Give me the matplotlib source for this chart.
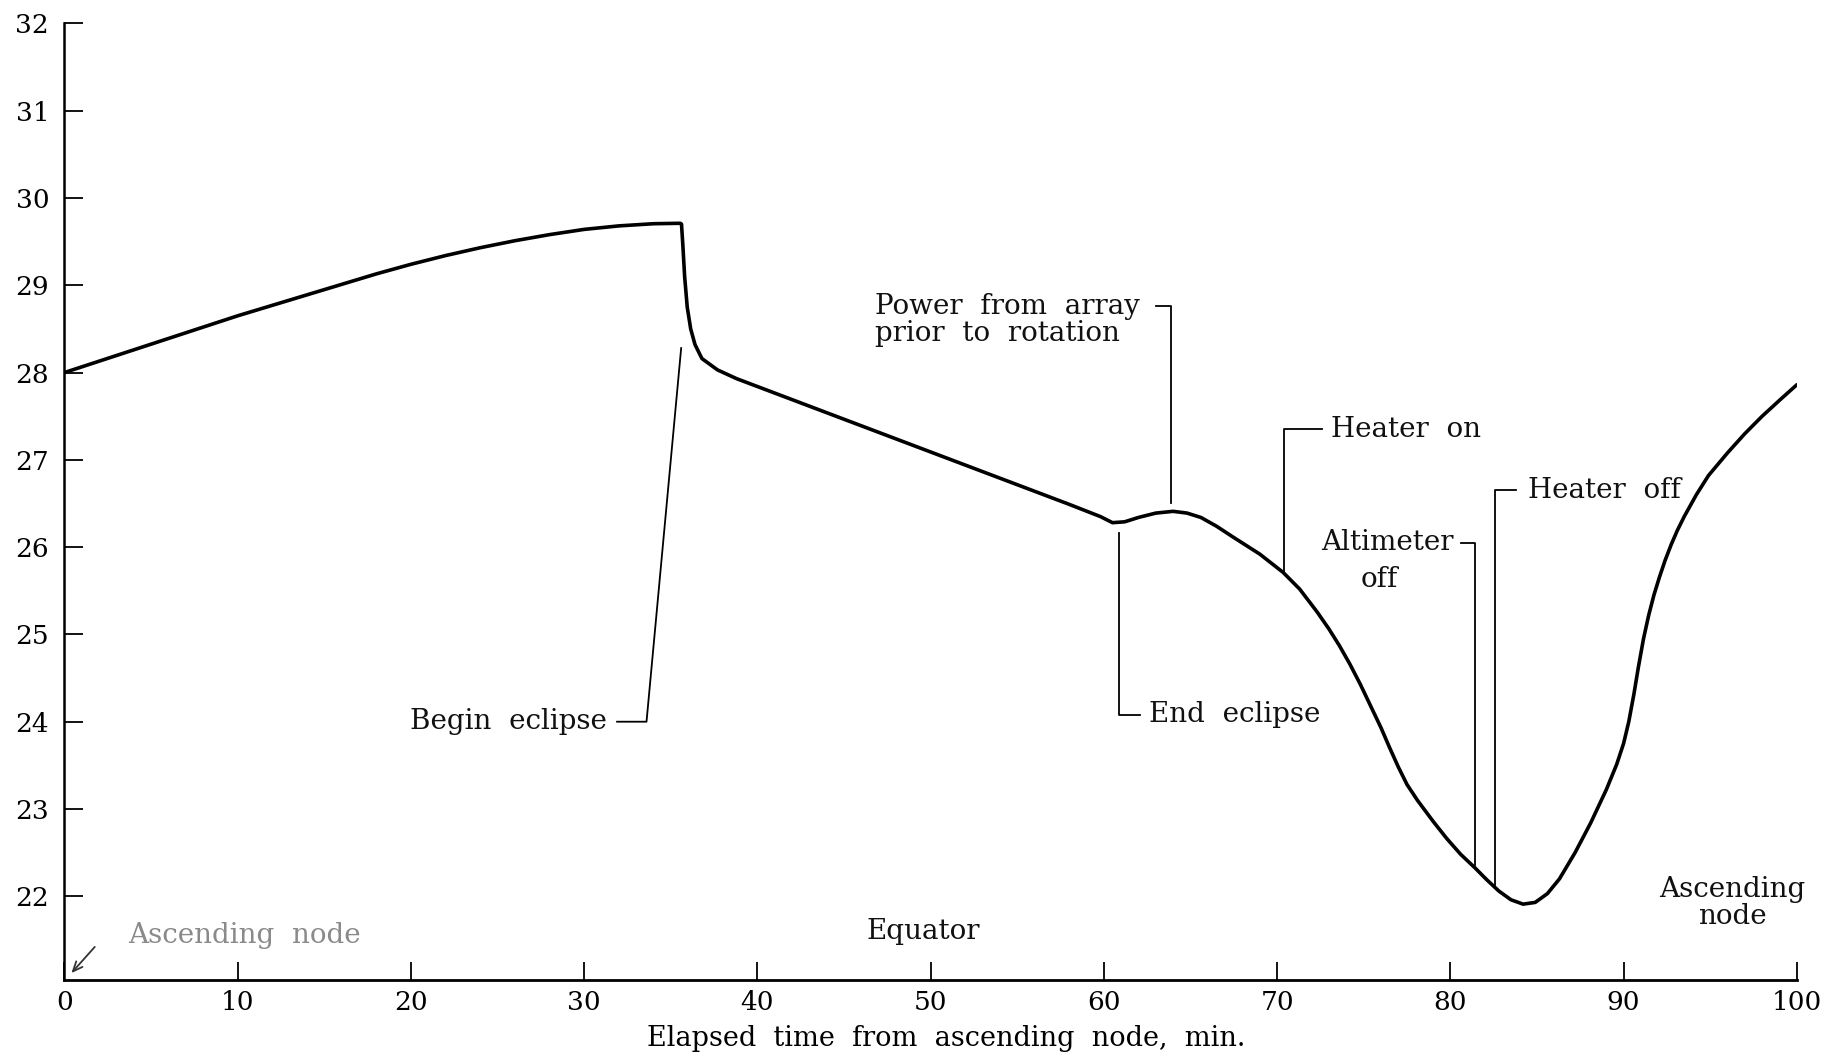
import matplotlib.pyplot as plt
import numpy as np

# Temperature trace over one orbit
time_min = [0.0, 2.0, 4.0, 6.0, 8.0, 10.0, 12.0, 14.0, 16.0, 18.0, 20.0, 22.0, 24.0,
            26.0, 28.0, 30.0, 32.0, 34.0, 35.55, 35.62, 35.7, 35.8, 35.95, 36.15,
            36.4, 36.8, 37.7, 38.8, 42.0, 46.0, 50.0, 54.0, 58.0, 59.8, 60.5, 61.2,
            62.0, 63.0, 64.0, 64.8, 65.6, 66.5, 67.5, 69.0, 70.35, 71.3, 72.3, 73.0,
            73.6, 74.2, 74.8, 75.4, 76.0, 76.5, 77.0, 77.5, 78.1, 79.0, 79.8, 80.6,
            81.4, 82.1, 82.8, 83.5, 84.2, 84.9, 85.6, 86.3, 87.2, 88.1, 89.0, 89.6,
            90.0, 90.3, 90.6, 90.85, 91.15, 91.45, 91.75, 92.06, 92.4, 92.75, 93.1,
            93.5, 94.2, 94.9, 96.0, 97.0, 98.0, 99.1, 100.0]
temp = [28.0, 28.13, 28.26, 28.39, 28.52, 28.65, 28.77, 28.89, 29.01, 29.13, 29.24,
        29.34, 29.43, 29.51, 29.58, 29.64, 29.68, 29.705, 29.71, 29.7, 29.45, 29.1,
        28.75, 28.5, 28.32, 28.16, 28.03, 27.93, 27.69, 27.39, 27.09, 26.79, 26.49,
        26.35, 26.28, 26.29, 26.34, 26.39, 26.41, 26.39, 26.34, 26.24, 26.11, 25.92,
        25.71, 25.52, 25.26, 25.06, 24.87, 24.66, 24.43, 24.18, 23.93, 23.7, 23.48,
        23.28, 23.1, 22.86, 22.66, 22.48, 22.33, 22.19, 22.06, 21.96, 21.91, 21.93,
        22.03, 22.2, 22.5, 22.84, 23.22, 23.51, 23.75, 24.0, 24.32, 24.62, 24.95,
        25.22, 25.45, 25.65, 25.85, 26.03, 26.19, 26.35, 26.6, 26.82, 27.08, 27.3,
        27.5, 27.7, 27.86]

x_ticks = [0, 10, 20, 30, 40, 50, 60, 70, 80, 90, 100]
x_tick_labels = ['0', '10', '20', '30', '40', '50', '60', '70', '80', '90', '100']
y_ticks = [22, 23, 24, 25, 26, 27, 28, 29, 30, 31, 32]

SERIF = 'DejaVu Serif'
TXT = dict(family=SERIF, fontsize=20, color='#111111')

fig = plt.figure(figsize=(18.41, 10.63), dpi=100)
ax = fig.add_axes([0.035, 0.078, 0.941, 0.9])

ax.plot(time_min, temp, color='black', lw=2.6, solid_joinstyle='round',
        solid_capstyle='round')

ax.set_xlim(0, 100)
ax.set_ylim(21.04, 32)
ax.spines['top'].set_visible(False)
ax.spines['right'].set_visible(False)
ax.spines['left'].set_linewidth(1.8)
ax.spines['bottom'].set_linewidth(2.0)
ax.set_xticks(x_ticks)
ax.set_xticklabels(x_tick_labels)
ax.set_yticks(y_ticks)
ax.tick_params(axis='x', direction='in', length=13, width=1.3, pad=7,
               labelsize=19)
ax.tick_params(axis='y', direction='in', length=14, width=1.3, pad=11,
               labelsize=19)
for lab in ax.get_xticklabels() + ax.get_yticklabels():
    lab.set_family(SERIF)

ax.set_xlabel('Elapsed  time  from  ascending  node,  min.', family=SERIF,
              fontsize=19.5, labelpad=7)
ax.xaxis.label.set_x(0.509)

# Event leader lines
lead = dict(color='black', lw=1.3)
ax.plot([31.9, 33.6, 35.6], [24.0, 24.0, 28.28], **lead)
ax.plot([63.0, 63.9, 63.9], [28.76, 28.76, 26.5], **lead)
ax.plot([60.9, 60.9, 62.1], [26.16, 24.08, 24.08], **lead)
ax.plot([70.4, 70.4, 72.6], [25.73, 27.35, 27.35], **lead)
ax.plot([80.6, 81.4, 81.4], [26.05, 26.05, 22.36], **lead)
ax.plot([83.8, 82.6, 82.6], [26.65, 26.65, 22.1], **lead)

ax.text(31.3, 24.0, 'Begin  eclipse', ha='right', va='center', **TXT)
ax.text(46.8, 28.76, 'Power  from  array', ha='left', va='center', **TXT)
ax.text(46.8, 28.45, 'prior  to  rotation', ha='left', va='center', **TXT)
ax.text(62.6, 24.08, 'End  eclipse', ha='left', va='center', **TXT)
ax.text(73.1, 27.35, 'Heater  on', ha='left', va='center', **TXT)
ax.text(80.2, 26.05, 'Altimeter', ha='right', va='center', **TXT)
ax.text(75.9, 25.63, 'off', ha='center', va='center', **TXT)
ax.text(84.5, 26.65, 'Heater  off', ha='left', va='center', **TXT)
ax.text(96.3, 22.08, 'Ascending', ha='center', va='center', **TXT)
ax.text(96.3, 21.77, 'node', ha='center', va='center', **TXT)
ax.text(49.6, 21.6, 'Equator', ha='center', va='center', **TXT)
ax.text(3.7, 21.55, 'Ascending  node', ha='left', va='center',
        family=SERIF, fontsize=20, color='#8a8a8a')

ax.annotate('', xy=(0.4, 21.12), xytext=(1.75, 21.42),
            arrowprops=dict(arrowstyle='->,head_length=0.7,head_width=0.3',
                            color='#333333', lw=1.3, shrinkA=0, shrinkB=0))

fig.savefig('out.png', dpi=100, facecolor='white')
